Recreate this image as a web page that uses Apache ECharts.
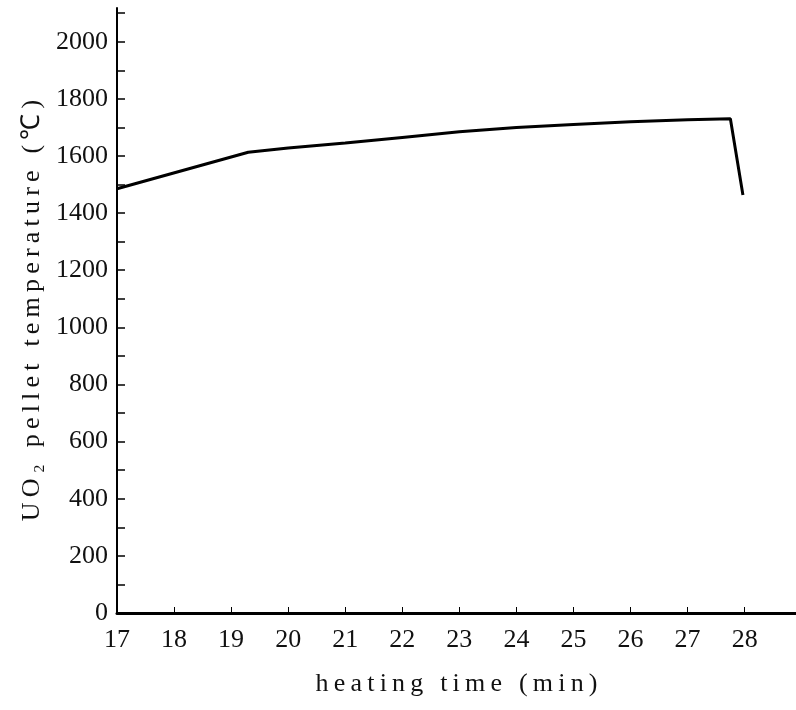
<!DOCTYPE html>
<html>
<head>
<meta charset="utf-8">
<script src="https://cdn.jsdelivr.net/npm/echarts@6/dist/echarts.min.js"></script>
<style>
html,body{margin:0;padding:0;background:#fff;}
#chart{width:796px;height:710px;}
</style>
</head>
<body>
<div id="chart"></div>
<script>
var timeMin = [17, 19.3, 20, 21, 22, 23, 24, 25, 26, 27, 27.75, 27.97];
var tempC = [1485, 1613, 1628, 1645, 1665, 1685, 1700, 1710, 1720, 1727, 1730, 1463];
var xTickLabels = [17, 18, 19, 20, 21, 22, 23, 24, 25, 26, 27, 28];
var yTicks = [0,100,200,300,400,500,600,700,800,900,1000,1100,1200,1300,1400,1500,1600,1700,1800,1900,2000,2100];
var yTickLabels = [0, 200, 400, 600, 800, 1000, 1200, 1400, 1600, 1800, 2000];
var xTitle = 'heating time (min)';
var yTitle = 'UO\u2082 pellet temperature (\u2103)';

function spaced(s) { return s.split('').join('\u2009'); }

var chart = echarts.init(document.getElementById('chart'));
var fontFam = 'Liberation Serif';
chart.setOption({
  animation: false,
  backgroundColor: '#fff',
  grid: { left: 117, right: 0, top: 8, bottom: 97, containLabel: false },
  xAxis: {
    type: 'value', min: 17, max: 28.9,
    name: spaced(xTitle), nameLocation: 'middle', nameGap: 58,
    nameTextStyle: { fontFamily: fontFam, fontSize: 26, color: '#111' },
    axisLine: { show: true, onZero: false, lineStyle: { color: '#000', width: 3 } },
    axisTick: { show: true, inside: true, length: 6, customValues: xTickLabels, lineStyle: { color: '#000', width: 1 } },
    axisLabel: { customValues: xTickLabels, margin: 14, fontFamily: fontFam, fontSize: 26, color: '#111',
      formatter: function (v) { return String(v); } },
    splitLine: { show: false }
  },
  yAxis: {
    type: 'value', min: 0, max: 2118,
    name: spaced(yTitle), nameLocation: 'middle', nameGap: 70,
    nameTextStyle: { fontFamily: fontFam, fontSize: 26, color: '#111' },
    axisLine: { show: true, lineStyle: { color: '#000', width: 2 } },
    axisTick: { show: true, inside: true, length: 8, customValues: yTicks, lineStyle: { color: '#000', width: 1.5 } },
    axisLabel: { customValues: yTickLabels, margin: 9, fontFamily: fontFam, fontSize: 26, color: '#111',
      formatter: function (v) { return String(v); } },
    splitLine: { show: false }
  },
  series: [{
    type: 'line',
    data: timeMin.map(function (t, i) { return [t, tempC[i]]; }),
    showSymbol: false,
    lineStyle: { color: '#000', width: 3 },
    silent: true
  }]
});
</script>
</body>
</html>
